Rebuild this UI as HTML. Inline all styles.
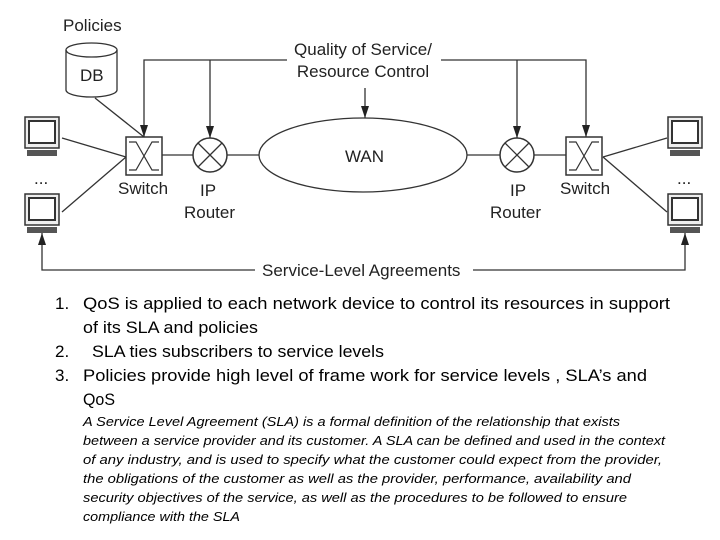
<!DOCTYPE html>
<html><head><style>body{margin:0;background:#fff}svg{display:block}</style></head><body>
<svg width="720" height="540" viewBox="0 0 720 540" xmlns="http://www.w3.org/2000/svg" font-family="Liberation Sans, sans-serif">
<defs><marker id="a" markerWidth="12" markerHeight="8" refX="12" refY="4" orient="auto" markerUnits="userSpaceOnUse"><path d="M0,0 L12,4 L0,8 Z" fill="#222"/></marker>
<g id="pc"><rect x="0" y="0" width="34" height="31" fill="#eee" stroke="#333" stroke-width="1.5"/><rect x="4" y="4" width="26" height="22" fill="#fff" stroke="#333" stroke-width="2"/><rect x="2" y="33" width="30" height="6" fill="#555"/></g>
<g id="sw"><rect x="0" y="0" width="36" height="38" fill="#fff" stroke="#333" stroke-width="1.5"/><path d="M3,5 H10 L26,33 H33 M3,33 H10 L26,5 H33" fill="none" stroke="#333" stroke-width="1.2"/></g>
<g id="rt"><circle r="17" fill="#fff" stroke="#333" stroke-width="1.5"/><path d="M-12,-12 L12,12 M12,-12 L-12,12" stroke="#333" stroke-width="1.3"/></g>
</defs>
<g stroke="#333" stroke-width="1.3" fill="none">
<path d="M66,50 L66,90 A25.5,7 0 0 0 117,90 L117,50"/><ellipse cx="91.5" cy="50" rx="25.5" ry="7"/>
<line x1="95" y1="98" x2="144" y2="137"/>
<path d="M287,60 H144 V137" marker-end="url(#a)"/><path d="M210,60 V138" marker-end="url(#a)"/>
<path d="M441,60 H586 V137" marker-end="url(#a)"/><path d="M517,60 V138" marker-end="url(#a)"/>
<path d="M365,88 V118" marker-end="url(#a)"/>
<ellipse cx="363" cy="155" rx="104" ry="37"/>
<line x1="162" y1="155" x2="193" y2="155"/><line x1="227" y1="155" x2="259" y2="155"/>
<line x1="467" y1="155" x2="500" y2="155"/><line x1="534" y1="155" x2="568" y2="155"/>
<line x1="62" y1="138" x2="126" y2="157"/><line x1="62" y1="212" x2="126" y2="157"/>
<line x1="667" y1="138" x2="603" y2="157"/><line x1="667" y1="212" x2="603" y2="157"/>
<path d="M255,270 H42 V233" marker-end="url(#a)"/><path d="M473,270 H685 V233" marker-end="url(#a)"/>
</g>
<use href="#pc" x="25" y="117"/><use href="#pc" x="25" y="194"/><use href="#pc" x="668" y="117"/><use href="#pc" x="668" y="194"/>
<use href="#sw" x="126" y="137"/><use href="#sw" x="566" y="137"/>
<use href="#rt" x="210" y="155"/><use href="#rt" x="517" y="155"/>
<g fill="#222" font-size="17">
<text x="63" y="31">Policies</text><text x="80" y="81">DB</text>
<text x="363" y="55" text-anchor="middle">Quality of Service/</text><text x="363" y="77" text-anchor="middle">Resource Control</text>
<text x="345" y="162">WAN</text>
<text x="118" y="194">Switch</text><text x="200" y="196">IP</text><text x="184" y="218">Router</text>
<text x="510" y="196">IP</text><text x="490" y="218">Router</text><text x="560" y="194">Switch</text>
<text x="34" y="184">...</text><text x="677" y="184">...</text>
<text x="262" y="276">Service-Level Agreements</text>
</g>
<g fill="#000" font-size="17">
<text x="55" y="309">1.</text><text x="83" y="309" textLength="587" lengthAdjust="spacingAndGlyphs">QoS is applied to each network device to control its resources in support</text>
<text x="83" y="333" textLength="175" lengthAdjust="spacingAndGlyphs">of its SLA and policies</text>
<text x="55" y="357">2.</text><text x="92" y="357" textLength="292" lengthAdjust="spacingAndGlyphs">SLA ties subscribers to service levels</text>
<text x="55" y="381">3.</text><text x="83" y="381" textLength="564" lengthAdjust="spacingAndGlyphs">Policies provide high level of frame work  for service levels , SLA’s and</text>
<text x="83" y="405" textLength="32" lengthAdjust="spacingAndGlyphs">QoS</text>
</g>
<g fill="#000" font-size="13" font-style="italic">
<text x="83" y="426" textLength="537" lengthAdjust="spacingAndGlyphs">A Service Level Agreement (SLA) is a formal definition of the relationship that exists</text>
<text x="83" y="445" textLength="582" lengthAdjust="spacingAndGlyphs">between a service provider and its customer. A SLA can be defined and used in the context</text>
<text x="83" y="464" textLength="579" lengthAdjust="spacingAndGlyphs">of any industry, and is used to specify what the customer could expect from the  provider,</text>
<text x="83" y="483" textLength="548" lengthAdjust="spacingAndGlyphs">the obligations of the customer as well as the provider, performance, availability and</text>
<text x="83" y="502" textLength="544" lengthAdjust="spacingAndGlyphs">security objectives of the service, as well as the procedures to be  followed to ensure</text>
<text x="83" y="521" textLength="157" lengthAdjust="spacingAndGlyphs">compliance with the SLA</text>
</g>
</svg>
</body></html>
